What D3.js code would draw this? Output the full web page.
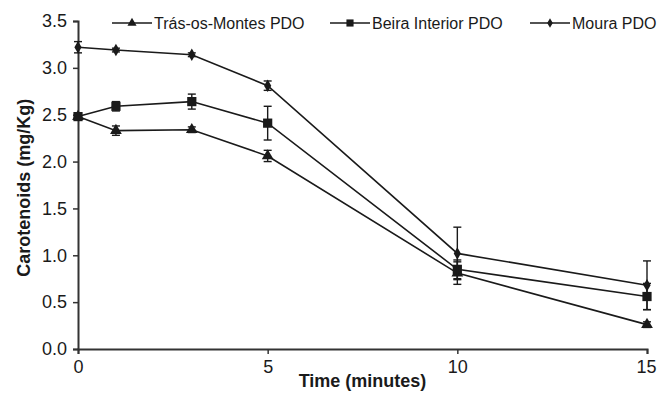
<!DOCTYPE html>
<html>
<head>
<meta charset="utf-8">
<script src="https://cdn.jsdelivr.net/npm/d3@7"></script>
<style>
  body { margin: 0; background: #fff; }
  svg { display: block; font-family: "Liberation Sans", Arial, sans-serif; }
</style>
</head>
<body>
<svg id="chart" width="657" height="399"></svg>
<script>
// time points (minutes)
const times = [0, 1, 3, 5, 10, 15];

// carotenoid means (mg/Kg) and error bars per PDO
const trasMean = [2.48, 2.33, 2.34, 2.06, 0.81, 0.26];
const trasErr  = [0.03, 0.05, 0.03, 0.06, 0.12, 0.03];
const beiraMean = [2.48, 2.59, 2.64, 2.41, 0.85, 0.56];
const beiraErr  = [0.03, 0.05, 0.08, 0.18, 0.10, 0.14];
const mouraMean = [3.22, 3.19, 3.14, 2.81, 1.02, 0.68];
const mouraErr  = [0.06, 0.02, 0.02, 0.05, 0.28, 0.26];

const seriesNames = ["Trás-os-Montes PDO", "Beira Interior PDO", "Moura PDO"];
const xTicks = [0, 5, 10, 15];
const yTicks = [0, 0.5, 1, 1.5, 2, 2.5, 3, 3.5];

const series = [
  { name: seriesNames[0], mean: trasMean, err: trasErr, shape: d3.symbolTriangle, size: 60 },
  { name: seriesNames[1], mean: beiraMean, err: beiraErr, shape: d3.symbolSquare, size: 85 },
  { name: seriesNames[2], mean: mouraMean, err: mouraErr, shape: d3.symbolDiamond, size: 45 }
];

const svg = d3.select("#chart");
const ink = "#1a1a1a";

const x = d3.scaleLinear().domain([0, 15]).range([78, 647]);
const y = d3.scaleLinear().domain([0, 3.5]).range([349, 21]);

// axes
const xAxis = svg.append("g")
  .attr("transform", `translate(0,${y(0)})`)
  .call(d3.axisBottom(x).tickValues(xTicks).tickSize(5).tickPadding(6).tickFormat(d3.format("d")));
const yAxis = svg.append("g")
  .attr("transform", `translate(${x(0)},0)`)
  .call(d3.axisLeft(y).tickValues(yTicks).tickSize(5).tickPadding(6).tickFormat(d3.format(".1f")));

[xAxis, yAxis].forEach(g => {
  g.select(".domain").attr("stroke", "#333").attr("stroke-width", 2);
  g.selectAll(".tick line").attr("stroke", "#333").attr("stroke-width", 1.5);
  g.selectAll(".tick text").attr("fill", ink).style("font-size", "18px");
});
// keep the last x label inside the frame
xAxis.selectAll(".tick text").filter(d => d === 15).attr("text-anchor", "end").attr("x", 9);

// lines, error bars, markers
const line = d3.line().x((d, i) => x(times[i])).y(d => y(d));

series.forEach(s => {
  svg.append("path")
    .datum(s.mean)
    .attr("fill", "none")
    .attr("stroke", ink)
    .attr("stroke-width", 1.6)
    .attr("d", line);

  const eb = svg.append("g").attr("stroke", ink).attr("stroke-width", 1.4);
  s.mean.forEach((m, i) => {
    const cx = x(times[i]);
    const y0 = y(m - s.err[i]), y1 = y(m + s.err[i]);
    eb.append("line").attr("x1", cx).attr("x2", cx).attr("y1", y0).attr("y2", y1);
    eb.append("line").attr("x1", cx - 4).attr("x2", cx + 4).attr("y1", y0).attr("y2", y0);
    eb.append("line").attr("x1", cx - 4).attr("x2", cx + 4).attr("y1", y1).attr("y2", y1);
  });

  svg.append("g").selectAll("path")
    .data(s.mean)
    .join("path")
    .attr("transform", (d, i) => `translate(${x(times[i])},${y(d)})`)
    .attr("d", d3.symbol().type(s.shape).size(s.size))
    .attr("fill", ink);
});

// legend
const legendX = [112, 330, 530];
const legend = svg.append("g").attr("transform", "translate(0,23)");
series.forEach((s, i) => {
  const g = legend.append("g").attr("transform", `translate(${legendX[i]},0)`);
  g.append("line").attr("x1", 0).attr("x2", 40).attr("stroke", ink).attr("stroke-width", 1.5);
  g.append("path").attr("transform", "translate(20,0)")
    .attr("d", d3.symbol().type(s.shape).size(s.size * 0.6)).attr("fill", ink);
  g.append("text").attr("x", 42).attr("dy", "0.35em")
    .attr("fill", ink).style("font-size", "16px").text(s.name);
});

// axis titles
svg.append("text")
  .attr("x", (x(0) + x(15)) / 2).attr("y", 387)
  .attr("text-anchor", "middle")
  .style("font-size", "18px").style("font-weight", "bold").attr("fill", ink)
  .text("Time (minutes)");

svg.append("text")
  .attr("transform", `translate(30,${y(1.72)}) rotate(-90)`)
  .attr("text-anchor", "middle")
  .style("font-size", "18px").style("font-weight", "bold").attr("fill", ink)
  .text("Carotenoids (mg/Kg)");
</script>
</body>
</html>
